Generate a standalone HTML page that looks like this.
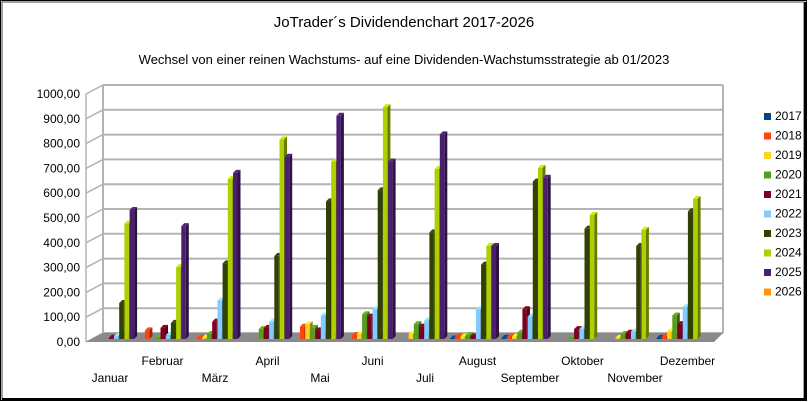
<!DOCTYPE html>
<html><head><meta charset="utf-8"><style>
html,body{margin:0;padding:0;background:#fff;}
#c{position:relative;width:808px;height:402px;overflow:hidden;font-family:"Liberation Sans",Arial,sans-serif;}
</style></head><body><div id="c">
<svg id="s" width="808" height="402" xmlns="http://www.w3.org/2000/svg" font-family="Liberation Sans, Arial, sans-serif">
<rect x="0.5" y="0.5" width="806" height="400" fill="#fff" stroke="#000"/>
<rect x="2" y="2" width="802" height="397" fill="none" stroke="#444" stroke-width="1"/>
<line x1="805" y1="2" x2="805" y2="400" stroke="#000" stroke-width="2"/>
<line x1="2" y1="399" x2="806" y2="399" stroke="#000" stroke-width="2"/>
<text x="404" y="27" font-size="15" text-anchor="middle" fill="#000">JoTrader´s Dividendenchart 2017-2026</text>
<text x="404" y="64" font-size="13" text-anchor="middle" fill="#000">Wechsel von einer reinen Wachstums- auf eine Dividenden-Wachstumsstrategie ab 01/2023</text>
<g id="g"></g>
</svg>
<script>
var g=document.getElementById('g'),h='';
var B0=333,SC=0.248;
// back wall gridlines
for(var i=0;i<=10;i++){var yb=B0-i*100*SC,yf=yb+9;
h+='<line x1="103" y1="'+yb+'" x2="723" y2="'+yb+'" stroke="#b3b3b3" stroke-width="2"/>';
h+='<line x1="86" y1="'+yf+'" x2="103" y2="'+yb+'" stroke="#b3b3b3" stroke-width="1.5"/>';
var lbl=(i*100)+',00';
h+='<text x="80" y="'+(yf+4)+'" font-size="12" text-anchor="end" fill="#000">'+lbl+'</text>';}
h+='<line x1="103" y1="85" x2="103" y2="333" stroke="#b3b3b3" stroke-width="2"/>';
h+='<line x1="723" y1="85" x2="723" y2="333" stroke="#b3b3b3" stroke-width="2"/>';
h+='<line x1="86" y1="94" x2="86" y2="342" stroke="#b3b3b3" stroke-width="1.5"/>';
h+='<polygon points="86,342 103,333 723,333 714,342" fill="#8a8a8a"/>';
var col=['#004586','#ff420e','#ffd320','#579d1c','#7e0021','#83caff','#314004','#aecf00','#4b1f6f','#ff950e'];
function shade(c,f){var n=parseInt(c.slice(1),16),r=(n>>16)*f,g2=((n>>8)&255)*f,b=(n&255)*f;return 'rgb('+Math.min(255,r|0)+','+Math.min(255,g2|0)+','+Math.min(255,b|0)+')';}
var d=[
[0,0,0,0,5,12,145,465,520,0],
[0,35,0,5,45,15,65,290,455,0],
[0,5,5,20,70,155,305,645,670,0],
[0,0,0,40,45,70,335,805,735,0],
[0,50,60,45,35,95,555,715,900,0],
[0,15,20,100,90,120,600,935,715,0],
[0,0,20,60,50,75,430,685,825,0],
[2,10,10,15,10,120,300,375,375,0],
[5,8,10,25,120,90,635,690,650,0],
[0,0,0,5,40,40,445,500,0,0],
[0,0,5,20,25,30,375,440,0,0],
[5,10,30,95,60,130,515,565,0,0]];
var base=339;
for(var m=0;m<12;m++){for(var s=0;s<10;s++){var v=d[m][s];if(v<=0)continue;
var x=88+m*51.7+s*5.2,w=4.5,hh=v*SC,y=base-hh,dx=3,dy=3;
h+='<polygon points="'+(x+w)+','+y+' '+(x+w+dx)+','+(y-dy)+' '+(x+w+dx)+','+(base-dy)+' '+(x+w)+','+base+'" fill="'+shade(col[s],0.6)+'"/>';
h+='<polygon points="'+x+','+y+' '+(x+dx)+','+(y-dy)+' '+(x+w+dx)+','+(y-dy)+' '+(x+w)+','+y+'" fill="'+shade(col[s],1.15)+'"/>';
h+='<rect x="'+x+'" y="'+y+'" width="'+w+'" height="'+hh+'" fill="'+col[s]+'"/>';}}
var mn=['Januar','Februar','März','April','Mai','Juni','Juli','August','September','Oktober','November','Dezember'];
for(var m=0;m<12;m++){var cx=110+m*52.5,yy=(m%2==0)?382:365;
h+='<text x="'+cx+'" y="'+yy+'" font-size="12" text-anchor="middle" fill="#000">'+mn[m]+'</text>';}
for(var s=0;s<10;s++){var ly=113+s*19.5;
h+='<rect x="764" y="'+ly+'" width="7" height="7" fill="'+col[s]+'"/>';
h+='<text x="775" y="'+(ly+7)+'" font-size="12" fill="#000">'+(2017+s)+'</text>';}
g.innerHTML=h;
</script>
</div></body></html>
